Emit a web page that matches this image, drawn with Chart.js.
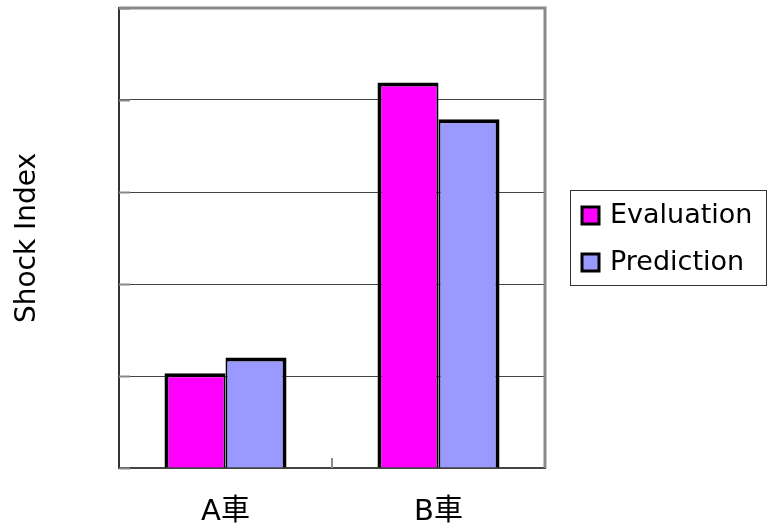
<!DOCTYPE html>
<html>
<head>
<meta charset="utf-8">
<script src="https://cdn.jsdelivr.net/npm/chart.js@4/dist/chart.umd.min.js"></script>
<style>
  body { margin: 0; background: #fff; }
  canvas { display: block; }
</style>
</head>
<body>
<canvas id="chart" width="780" height="529"></canvas>
<script>
const FONT = '"DejaVu Sans", "Noto Sans CJK JP", sans-serif';

const categories = ['A車', 'B車'];
const evaluation = [1.03, 4.19];
const prediction = [1.2, 3.79];
const seriesNames = ['Evaluation', 'Prediction'];
const seriesColors = ['#ff00ff', '#9999ff'];
const yMax = 5;
const yStep = 1;

// the two bars of a pair share one divider line
const barBorders = [
    { left: 4, top: 4, bottom: 4, right: 2 },
    { left: 2, top: 4, bottom: 4, right: 4 }
];

// grey top/right edge of the plot, plus the short inward tick marks
const frame = {
    id: 'frame',
    beforeDatasetsDraw(chart) {
        const { ctx, chartArea: a, scales } = chart;
        ctx.save();
        ctx.strokeStyle = '#8a8a8a';
        ctx.lineWidth = 3;
        ctx.beginPath();
        ctx.moveTo(a.left, a.top);
        ctx.lineTo(a.right, a.top);
        ctx.lineTo(a.right, a.bottom);
        ctx.stroke();

        ctx.lineWidth = 2;
        ctx.beginPath();
        scales.y.ticks.forEach(t => {
            const y = Math.round(scales.y.getPixelForValue(t.value)) + 0.5;
            ctx.moveTo(a.left, y);
            ctx.lineTo(a.left + 11, y);
        });
        for (let i = 1; i < categories.length; i++) {
            const x = (scales.x.getPixelForTick(i - 1) + scales.x.getPixelForTick(i)) / 2;
            ctx.moveTo(x, a.bottom);
            ctx.lineTo(x, a.bottom - 10);
        }
        ctx.stroke();
        ctx.restore();
    }
};

// boxed legend to the right of the plot
const boxLegend = {
    id: 'boxLegend',
    afterDraw(chart) {
        const { ctx } = chart;
        ctx.save();
        ctx.strokeStyle = '#333';
        ctx.lineWidth = 1;
        ctx.strokeRect(570.5, 190.5, 196, 95);
        ctx.font = '27px ' + FONT;
        ctx.textBaseline = 'alphabetic';
        chart.data.datasets.forEach((ds, i) => {
            const base = 223 + i * 47;
            ctx.fillStyle = ds.backgroundColor;
            ctx.fillRect(582, base - 16, 17, 17);
            ctx.strokeStyle = '#000';
            ctx.lineWidth = 3;
            ctx.strokeRect(582, base - 16, 17, 17);
            ctx.fillStyle = '#000';
            ctx.fillText(ds.label, 610, base);
        });
        ctx.restore();
    }
};

new Chart(document.getElementById('chart'), {
    type: 'bar',
    data: {
        labels: categories,
        datasets: [evaluation, prediction].map((values, i) => ({
            label: seriesNames[i],
            data: values,
            backgroundColor: seriesColors[i],
            borderColor: '#000',
            borderWidth: barBorders[i],
            categoryPercentage: 0.573,
            barPercentage: 1
        }))
    },
    options: {
        responsive: false,
        animation: false,
        devicePixelRatio: 1,
        layout: { padding: { top: 8, right: 235, left: 0, bottom: 0 } },
        plugins: {
            legend: { display: false },
            tooltip: { enabled: false }
        },
        scales: {
            x: {
                offset: true,
                grid: { display: false, drawTicks: false },
                border: { color: '#444', width: 2 },
                ticks: { color: '#000', padding: 27, font: { family: FONT, size: 29 } },
                afterFit: (s) => { s.height = 61; }
            },
            y: {
                min: 0,
                max: yMax,
                ticks: { stepSize: yStep, display: false },
                grid: { color: '#444', lineWidth: 1, drawTicks: false },
                border: { color: '#333', width: 2 },
                title: {
                    display: true,
                    text: 'Shock Index',
                    color: '#000',
                    padding: { top: 11 },
                    font: { family: FONT, size: 28 }
                },
                afterFit: (s) => { s.width = 119; }
            }
        }
    },
    plugins: [frame, boxLegend]
});
</script>
</body>
</html>
